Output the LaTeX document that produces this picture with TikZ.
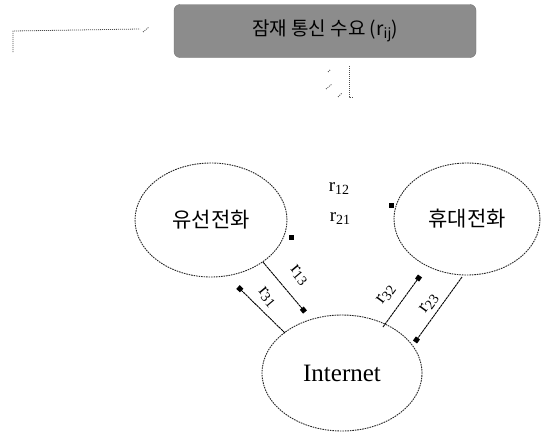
\documentclass[tikz,border=0pt]{standalone}
\usepackage{fontspec}
\setmainfont{Liberation Serif}
\newfontfamily\kr{Noto Sans CJK KR}
\usetikzlibrary{shapes.geometric,arrows.meta}
\newcommand{\rsub}[1]{r\raisebox{-3pt}{\fontsize{14}{14}\selectfont #1}}
\begin{document}
\begin{tikzpicture}[x=1pt,y=-1pt,
  bubble/.style={ellipse,draw=black!85,line width=0.9pt,dash pattern=on 1.6pt off 0.9pt,inner sep=0pt},
  demand/.style={draw=black,line width=0.9pt,dash pattern=on 2.5pt off 0.6pt},
  sqtip/.style={-{Square[length=5pt,width=5pt]}},
  handle/.style={rectangle,fill=black,inner sep=0pt,minimum size=5pt},
  rlab/.style={font=\fontsize{19}{21}\selectfont,inner sep=0pt},
  speck/.style={draw=black!70,line width=0.8pt,dash pattern=on 1pt off 1pt}
]
\useasboundingbox (0,0) rectangle (543,434);

% title
\node[draw=black!55,fill=black!45,rounded corners=6pt,minimum width=302pt,minimum height=53pt,inner sep=0pt,
      font=\kr\fontsize{19}{21}\selectfont] (title) at (325,31) {잠재 통신 수요 (\rsub{ij})};

% stray marks
\coordinate (s1) at (13,52);
\coordinate (s2) at (13,31);
\coordinate (s3) at (140,29);
\draw[speck] (s1) -- (s2) -- (s3);
\coordinate (s4) at (143,32);
\coordinate (s5) at (149,27);
\draw[speck] (s4) -- (s5);
\coordinate (s6) at (349,66);
\coordinate (s7) at (349,97);
\coordinate (s8) at (353,97);
\draw[speck] (s6) -- (s7) -- (s8);
\coordinate (s9) at (326,89);
\coordinate (s10) at (332,84);
\draw[speck] (s9) -- (s10);
\coordinate (s11) at (338,97);
\coordinate (s12) at (342,93);
\draw[speck] (s11) -- (s12);
\coordinate (s13) at (328,72);
\coordinate (s14) at (330,70);
\draw[speck] (s13) -- (s14);

% nodes
\node[bubble,minimum width=152pt,minimum height=114pt,font=\kr\fontsize{21}{23}\selectfont] (wire) at (211,220) {유선전화};
\node[bubble,minimum width=146pt,minimum height=112pt,font=\kr\fontsize{21}{23}\selectfont] (mobile) at (467,219) {휴대전화};
\node[bubble,minimum width=160pt,minimum height=116pt,font=\fontsize{25}{27}\selectfont] (net) at (342,373) {Internet};

% handles
\node[handle] (h1) at (291,237) {};
\node[handle] (h2) at (391,205) {};

% r12 r21 labels
\node[rlab] (l12) at (339,189) {\rsub{12}};
\node[rlab] (l21) at (340,219) {\rsub{21}};

% connectors
\coordinate (a13) at (305,312);
\coordinate (a31) at (238,287);
\coordinate (b31) at (285,333);
\coordinate (a32) at (420,276);
\coordinate (b32) at (383,327);
\coordinate (a23) at (415,342);
\coordinate (b23) at (462,277);
\draw[demand,sqtip] (wire.-39) -- (a13);
\draw[demand,sqtip] (b31) -- (a31);
\draw[demand,sqtip] (b32) -- (a32);
\draw[demand,sqtip] (b23) -- (a23);

\node[rlab,rotate=-50] (l13) at (299,275) {\rsub{13}};
\node[rlab,rotate=-50] (l31) at (267,297) {\rsub{31}};
\node[rlab,rotate=54] (l32) at (386,295) {\rsub{32}};
\node[rlab,rotate=54] (l23) at (429,304) {\rsub{23}};
\end{tikzpicture}
\end{document}
